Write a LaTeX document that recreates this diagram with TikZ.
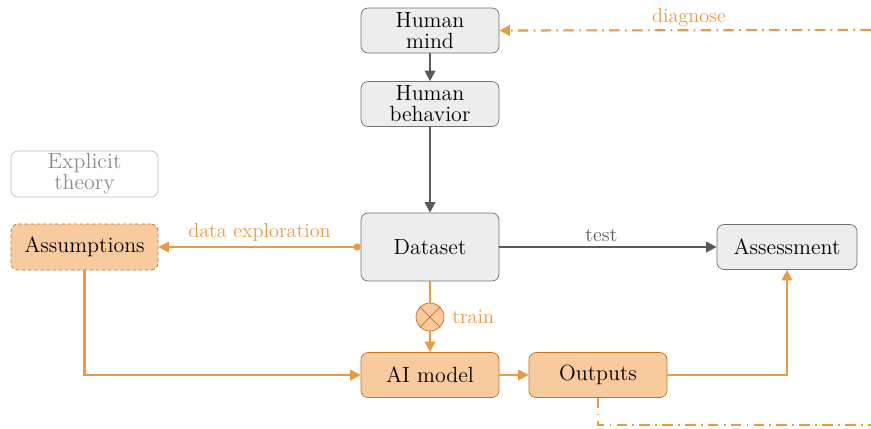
\documentclass[tikz,border=0pt]{standalone}
\usepackage{tikz}
\usetikzlibrary{arrows.meta, positioning}
\definecolor{tgray}{HTML}{EDEDED}
\definecolor{tgrayline}{HTML}{707070}
\definecolor{tdark}{HTML}{595959}
\definecolor{torange}{HTML}{EA9A43}
\definecolor{tofill}{HTML}{F8CB9E}
\definecolor{toline}{HTML}{C8701C}

\begin{document}
\begin{tikzpicture}[
  every node/.style={font=\fontsize{12.5}{14}\selectfont},
  box/.style={rectangle, rounded corners=4pt, draw=tgrayline, fill=tgray, minimum width=2.76cm, minimum height=0.9cm, align=center, inner sep=1pt},
  obox/.style={box, draw=toline, fill=tofill},
  ghost/.style={box, draw=black!25, fill=white, text=black!45},
  arrow/.style={-{Triangle[length=6pt,width=6pt]}, line width=1.2pt, #1},
  dashdot/.style={line width=1.2pt, torange, dash pattern=on 6pt off 3pt on 1pt off 3pt},
  lbl/.style={font=\fontsize{11.5}{13}\selectfont, text=#1},
]
\useasboundingbox (0,0) rectangle (17.42,-8.56);

\node[box] (mind) at (8.6,-0.61) {Human\\[-2pt]mind};
\node[box] (behav) at (8.6,-2.08) {Human\\[-2pt]behavior};
\node[box, minimum height=1.36cm] (data) at (8.6,-4.94) {Dataset};
\node[box, minimum width=2.8cm] (assess) at (15.74,-4.94) {Assessment};
\node[ghost, minimum width=2.94cm, minimum height=0.92cm] (theory) at (1.69,-3.48) {Explicit\\[-2pt]theory};
\node[obox, dash pattern=on 2pt off 1.5pt, minimum width=2.94cm, minimum height=0.92cm] (assume) at (1.69,-4.94) {Assumptions};
\node[obox] (model) at (8.6,-7.5) {AI model};
\node[obox] (out) at (11.96,-7.5) {Outputs};
\node[circle, draw=toline, fill=tofill, minimum size=0.56cm, inner sep=0pt] (train) at (8.6,-6.34) {};
\draw[toline] (train.45) -- (train.225) (train.135) -- (train.315);
\node[lbl=torange, right=1pt of train] {train};

\coordinate (diagR) at (17.42,-0.6);
\coordinate (fbR) at (17.42,-8.5);

% gray flow
\draw[arrow=tdark] (mind) -- (behav);
\draw[arrow=tdark] (behav) -- (data);
\draw[arrow=tdark] (data) -- node[above=-1pt, lbl=tdark, pos=0.47] {test} (assess);

% orange flow
\draw[{Circle[length=4pt]}-{Triangle[length=6pt,width=6pt]}, line width=1.2pt, torange] (data.west) -- node[above=-1pt, lbl=torange] {data exploration} (assume.east);
\draw[line width=1.2pt, torange] (data) -- (train);
\draw[arrow=torange] (train) -- (model);
\draw[arrow=torange] (assume.south) |- (model.west);
\draw[arrow=torange] (model) -- (out);
\draw[arrow=torange] (out.east) -| (assess.south);

% feedback
\draw[dashdot, -{Triangle[length=6pt,width=6pt]}] (diagR) -- node[above=-2pt, pos=0.49, lbl=torange] {diagnose} (mind.east);
\draw[dashdot] (out.south) |- (fbR);
\end{tikzpicture}
\end{document}
